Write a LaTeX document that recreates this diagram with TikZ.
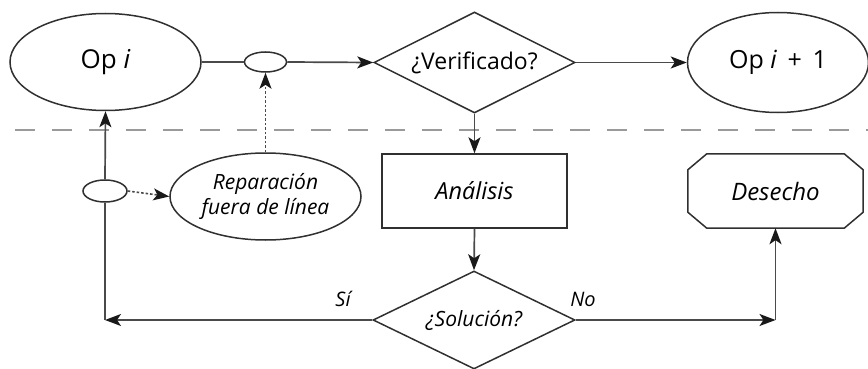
\documentclass[tikz,border=0pt]{standalone}
\usepackage{fontspec}
\setmainfont{Open Sans}
\usetikzlibrary{shapes.geometric,arrows.meta}
\definecolor{linec}{HTML}{4A4A4A}
\definecolor{shapec}{HTML}{303030}
\definecolor{dashc}{HTML}{9A9A9A}
\tikzset{
  shp/.style={draw=shapec,line width=1.5pt,inner sep=0pt,text=black},
  dia/.style={shp,diamond,aspect=2},
  conn/.style={draw=linec,line width=1.7pt},
  tip/.style={-{Stealth[length=16pt,width=12pt,inset=4pt,color=black!90]}},
  arr/.style={conn,tip},
  dotarr/.style={draw=linec,line width=1.6pt,dash pattern=on 2.5pt off 2pt,tip},
  lbl/.style={font=\fontsize{20}{24}\selectfont\itshape,text=black}
}
\begin{document}
\begin{tikzpicture}[x=1pt,y=-1pt]
\useasboundingbox (0,0) rectangle (868,369);
% separator
\draw[dashc,line width=1.8pt,dash pattern=on 20pt off 17pt] (15,130) -- (868,130);
% nodes
\node[shp,ellipse,minimum width=191pt,minimum height=97pt,font=\fontsize{26}{30}\selectfont] (opi) at (105.5,62) {Op \textit{i}};
\node[shp,ellipse,minimum width=42pt,minimum height=20pt] (j1) at (265.5,62) {};
\node[dia,minimum width=201pt,minimum height=101pt,font=\fontsize{23}{27}\selectfont] (ver) at (474.5,62.5) {¿Verificado?};
\node[shp,ellipse,minimum width=181pt,minimum height=100pt,font=\fontsize{25}{29}\selectfont] (opi1) at (778,62.5) {Op \textit{i} \,+\, 1};
\node[shp,ellipse,minimum width=44pt,minimum height=22pt] (j2) at (105,191) {};
\node[shp,ellipse,minimum width=191pt,minimum height=87pt,align=center,font=\fontsize{21}{25}\selectfont\itshape] (rep) at (265.5,196.5) {Reparación\\fuera de línea};
\node[shp,rectangle,minimum width=185pt,minimum height=74pt,font=\fontsize{23.5}{28}\selectfont\itshape] (ana) at (474.5,191) {Análisis};
\node[inner sep=0pt,minimum width=175pt,minimum height=74pt,font=\fontsize{24}{28}\selectfont\itshape] (des) at (775.5,191) {Desecho};
\draw[shapec,line width=1.5pt] ([xshift=19pt]des.north west) -- ([xshift=-19pt]des.north east)
  -- ([yshift=-16pt]des.north east) -- ([yshift=16pt]des.south east)
  -- ([xshift=-19pt]des.south east) -- ([xshift=19pt]des.south west)
  -- ([yshift=16pt]des.south west) -- ([yshift=-16pt]des.north west) -- cycle;
\node[dia,minimum width=202pt,minimum height=98pt,font=\fontsize{21}{25}\selectfont\itshape] (sol) at (474,320) {¿Solución?};
\coordinate (cs) at (105,320);
\coordinate (cn) at (775.5,320);
% connectors
\draw[conn] (opi.east) -- (j1.west);
\draw[arr] (j1.east) -- (ver.west);
\draw[arr] (ver.east) -- (opi1.west);
\draw[arr] (ver.south) -- (ana.north);
\draw[arr] (ana.south) -- (sol.north);
\draw[arr] (sol.west) -- (cs);
\draw[conn] (cs) -- (j2.south);
\draw[arr] (j2.north) -- (opi.south);
\draw[dotarr] (j2.east) -- (rep.west);
\draw[dotarr] (rep.north) -- (j1.south);
\draw[arr] (sol.east) -- (cn);
\draw[arr] (cn) -- (des.south);
% labels
\node[lbl] (si) at (343,299) {Sí};
\node[lbl] (no) at (583,299) {No};
\end{tikzpicture}
\end{document}
